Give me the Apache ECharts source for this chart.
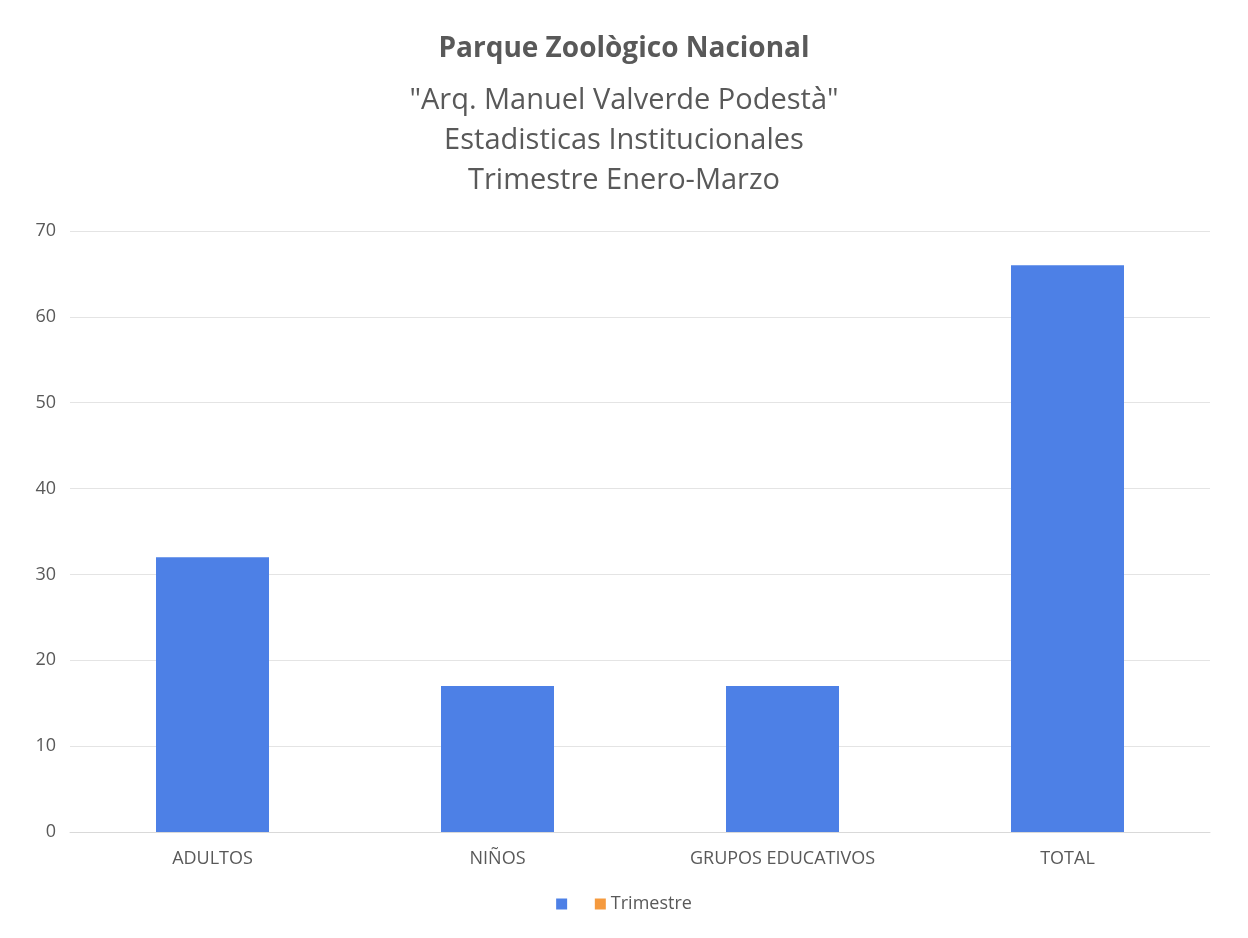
<!DOCTYPE html>
<html>
<head>
<meta charset="utf-8">
<script src="https://cdn.jsdelivr.net/npm/echarts@6/dist/echarts.min.js"></script>
<style>
html, body { margin: 0; padding: 0; background: #fff; }
#container { width: 1248px; height: 938px; }
</style>
</head>
<body>
<div id="container"></div>
<script>
var categories = ['ADULTOS', 'NIÑOS', 'GRUPOS EDUCATIVOS', 'TOTAL'];
var visitantes = [32, 17, 17, 66];
var trimestre = [];
var yTicks = { min: 0, max: 70, interval: 10 };

var dom = document.getElementById('container');
var myChart = echarts.init(dom);
var fontFam = '"Open Sans", "Noto Sans", sans-serif';

var option = {
    backgroundColor: '#ffffff',
    animation: false,
    title: {
        text: 'Parque Zoològico Nacional',
        subtext: '"Arq. Manuel Valverde Podestà"\nEstadisticas Institucionales\nTrimestre Enero-Marzo',
        left: 'center',
        top: 30,
        itemGap: 18,
        textStyle: { fontFamily: fontFam, fontSize: 28, fontWeight: 'bold', color: '#595959' },
        subtextStyle: { fontFamily: fontFam, fontSize: 29, color: '#595959', lineHeight: 40 }
    },
    legend: {
        bottom: 20,
        left: 'center',
        itemWidth: 11,
        itemHeight: 11,
        itemGap: 18,
        icon: 'rect',
        textStyle: { fontFamily: fontFam, fontSize: 18, color: '#595959' },
        data: [' ', 'Trimestre']
    },
    grid: { left: 70, right: 38, top: 231, bottom: 106 },
    xAxis: {
        type: 'category',
        data: categories,
        axisLine: { lineStyle: { color: '#d9d9d9' } },
        axisTick: { show: false },
        axisLabel: { fontFamily: fontFam, fontSize: 18, color: '#595959', margin: 18 }
    },
    yAxis: {
        type: 'value',
        min: yTicks.min,
        max: yTicks.max,
        interval: yTicks.interval,
        axisLine: { show: false },
        axisTick: { show: false },
        axisLabel: { fontFamily: fontFam, fontSize: 18, color: '#595959', margin: 14 },
        splitLine: { lineStyle: { color: '#e4e4e4' } }
    },
    series: [{
        name: ' ',
        type: 'bar',
        barWidth: 113,
        barGap: '-100%',
        itemStyle: { color: '#4d80e6' },
        data: visitantes
    }, {
        name: 'Trimestre',
        type: 'bar',
        barWidth: 113,
        barGap: '-100%',
        itemStyle: { color: '#f59a3e' },
        data: trimestre
    }]
};
myChart.setOption(option, true);
</script>
</body>
</html>
